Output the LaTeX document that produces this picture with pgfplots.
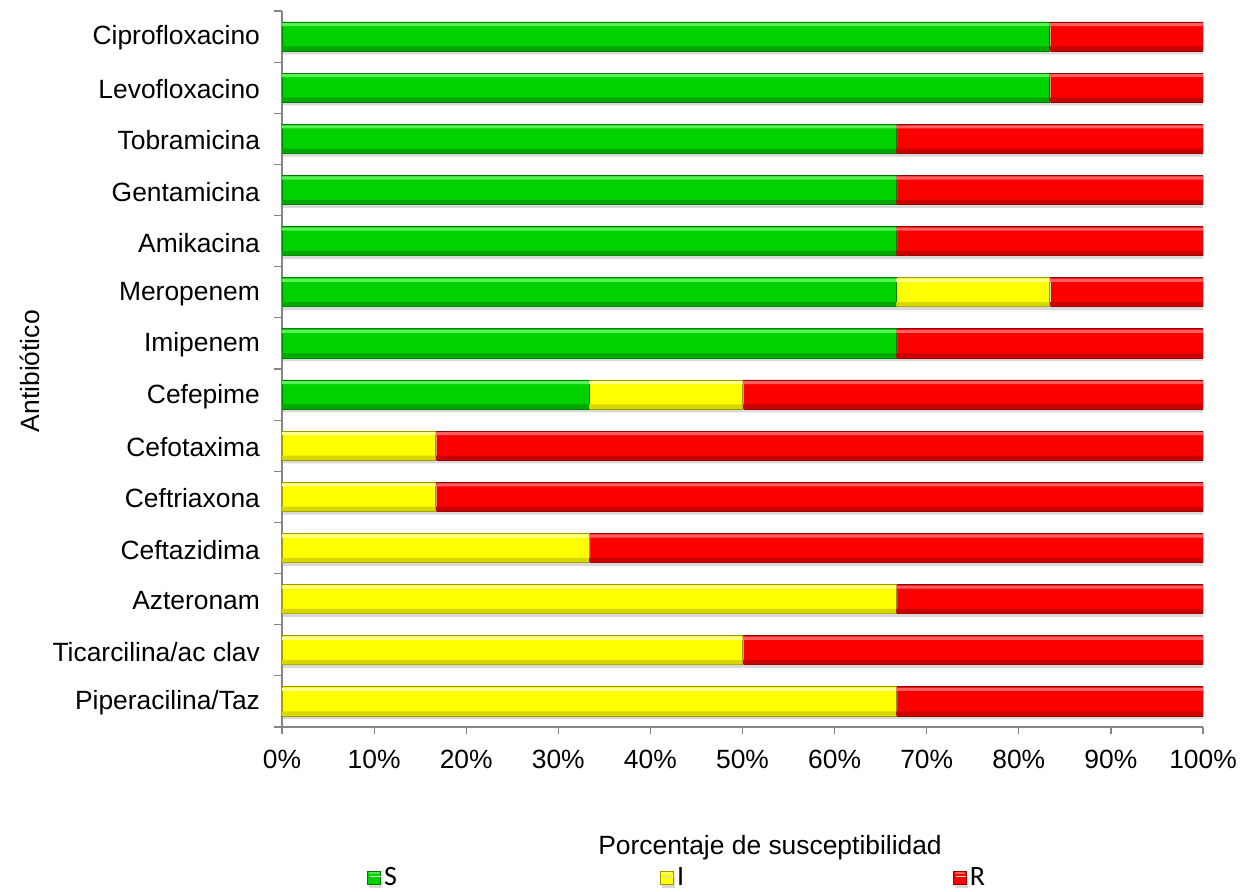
\documentclass[border=0pt]{standalone}
\usepackage{pgfplots}
\pgfplotsset{compat=1.18}
\usepackage{pgfplotstable}
\usepackage{fontspec}
\setmainfont{Liberation Sans}
\newfontfamily\legendfont{Carlito}

% bar colours: base, highlight, shade, outline
\definecolor{Sbase}{RGB}{0,210,0}
\definecolor{Slight}{RGB}{90,240,90}
\definecolor{Sdark}{RGB}{0,165,0}
\definecolor{Sline}{RGB}{0,125,0}
\definecolor{Ibase}{RGB}{255,255,0}
\definecolor{Ilight}{RGB}{255,255,140}
\definecolor{Idark}{RGB}{215,215,0}
\definecolor{Iline}{RGB}{155,155,0}
\definecolor{Rbase}{RGB}{252,0,0}
\definecolor{Rlight}{RGB}{255,95,95}
\definecolor{Rdark}{RGB}{200,0,0}
\definecolor{Rline}{RGB}{150,0,0}
\definecolor{axisgray}{RGB}{134,134,134}

% antibiotic  S  I  R  (percent of isolates)
\pgfplotstableread{
idx S I R
0 83.33 0 16.67
1 83.33 0 16.67
2 66.67 0 33.33
3 66.67 0 33.33
4 66.67 0 33.33
5 66.67 16.67 16.66
6 66.67 0 33.33
7 33.33 16.67 50.00
8 0 16.67 83.33
9 0 16.67 83.33
10 0 33.33 66.67
11 0 66.67 33.33
12 0 50.00 50.00
13 0 66.67 33.33
}\datatable

\newcommand\lbl{\fontsize{13.2}{15.8}\selectfont}

\pgfplotsset{
  frame/.style={
    at={(0pt,0pt)}, anchor=south west,
    scale only axis,
    width=460.5pt, height=358pt,
    xbar stacked,
    y dir=reverse,
    xmin=0, xmax=100,
    ymin=-0.5, ymax=13.5,
  },
  % thin bands laid over the bars for the bevelled look
  band/.style 2 args={frame, hide axis, bar width=#1, every axis plot/.append style={bar shift=#2, draw=none}},
}

\begin{document}
\begin{tikzpicture}
\path[use as bounding box] (-141pt,-82.5pt) rectangle (484.5pt,363.5pt);
\begin{axis}[
  frame,
  bar width=0.57,
  axis x line*=bottom,
  axis y line*=left,
  axis line style={axisgray, line width=0.6pt, -},
  tick align=outside,
  tick style={axisgray, line width=0.6pt},
  major tick length=3.5pt,
  minor tick length=4pt,
  xtick={0,10,...,100},
  xticklabels={0\%,10\%,20\%,30\%,40\%,50\%,60\%,70\%,80\%,90\%,100\%},
  xticklabel style={font=\lbl, yshift=-4.5pt},
  ytick={0,...,13},
  minor ytick={-0.5,0.5,...,13.5},
  major y tick style={draw=none},
  yticklabels={Ciprofloxacino,Levofloxacino,Tobramicina,Gentamicina,Amikacina,Meropenem,Imipenem,Cefepime,Cefotaxima,Ceftriaxona,Ceftazidima,Azteronam,Ticarcilina/ac clav,Piperacilina/Taz},
  yticklabel style={font=\lbl, xshift=-4pt, yshift=-0.8pt},
  xlabel={Porcentaje de susceptibilidad},
  xlabel style={font=\lbl, at={(axis description cs:0.5299,-0.169)}, anchor=center},
  ylabel={Antibiótico},
  ylabel style={font=\lbl, at={(axis description cs:-0.2736,0.497)}, anchor=center},
  legend columns=3,
  legend style={draw=none, fill=none, inner sep=0pt, font=\legendfont\fontsize{14}{16}\selectfont,
    at={(axis description cs:0.0923,-0.2109)}, anchor=west,
    /tikz/column sep=0pt, nodes={inner sep=0pt}},
  legend image code/.code={\draw[#1] (0pt,-3.25pt) rectangle (6.5pt,3.25pt);
     \fill[#1, draw=none, fill=white, opacity=0.35] (0.6pt,2.2pt) rectangle (5.9pt,2.8pt);},
  bar shadow/.style={preaction={fill=black!15, draw=none, transform canvas={shift={(0.6pt,-1.6pt)}}}},
]
\addplot[bar shadow, draw=Sline, line width=0.4pt, fill=Sbase] table[x=S, y=idx] {\datatable};
\addlegendentry{\makebox[139.5pt][l]{\hspace{1.5pt}S}}
\addplot[bar shadow, draw=Iline, line width=0.4pt, fill=Ibase] table[x=I, y=idx] {\datatable};
\addlegendentry{\makebox[139.5pt][l]{\hspace{1.5pt}I}}
\addplot[bar shadow, draw=Rline, line width=0.4pt, fill=Rbase] table[x=R, y=idx] {\datatable};
\addlegendentry{\hspace{1.5pt}R}
\end{axis}

% light band along the top edge of each bar
\begin{axis}[band={0.06}{-0.235}]
\addplot[fill=Slight] table[x=S, y=idx] {\datatable};
\addplot[fill=Ilight] table[x=I, y=idx] {\datatable};
\addplot[fill=Rlight] table[x=R, y=idx] {\datatable};
\end{axis}

% darker band along the bottom edge of each bar
\begin{axis}[band={0.085}{0.235}]
\addplot[fill=Sdark] table[x=S, y=idx] {\datatable};
\addplot[fill=Idark] table[x=I, y=idx] {\datatable};
\addplot[fill=Rdark] table[x=R, y=idx] {\datatable};
\end{axis}
\end{tikzpicture}
\end{document}
